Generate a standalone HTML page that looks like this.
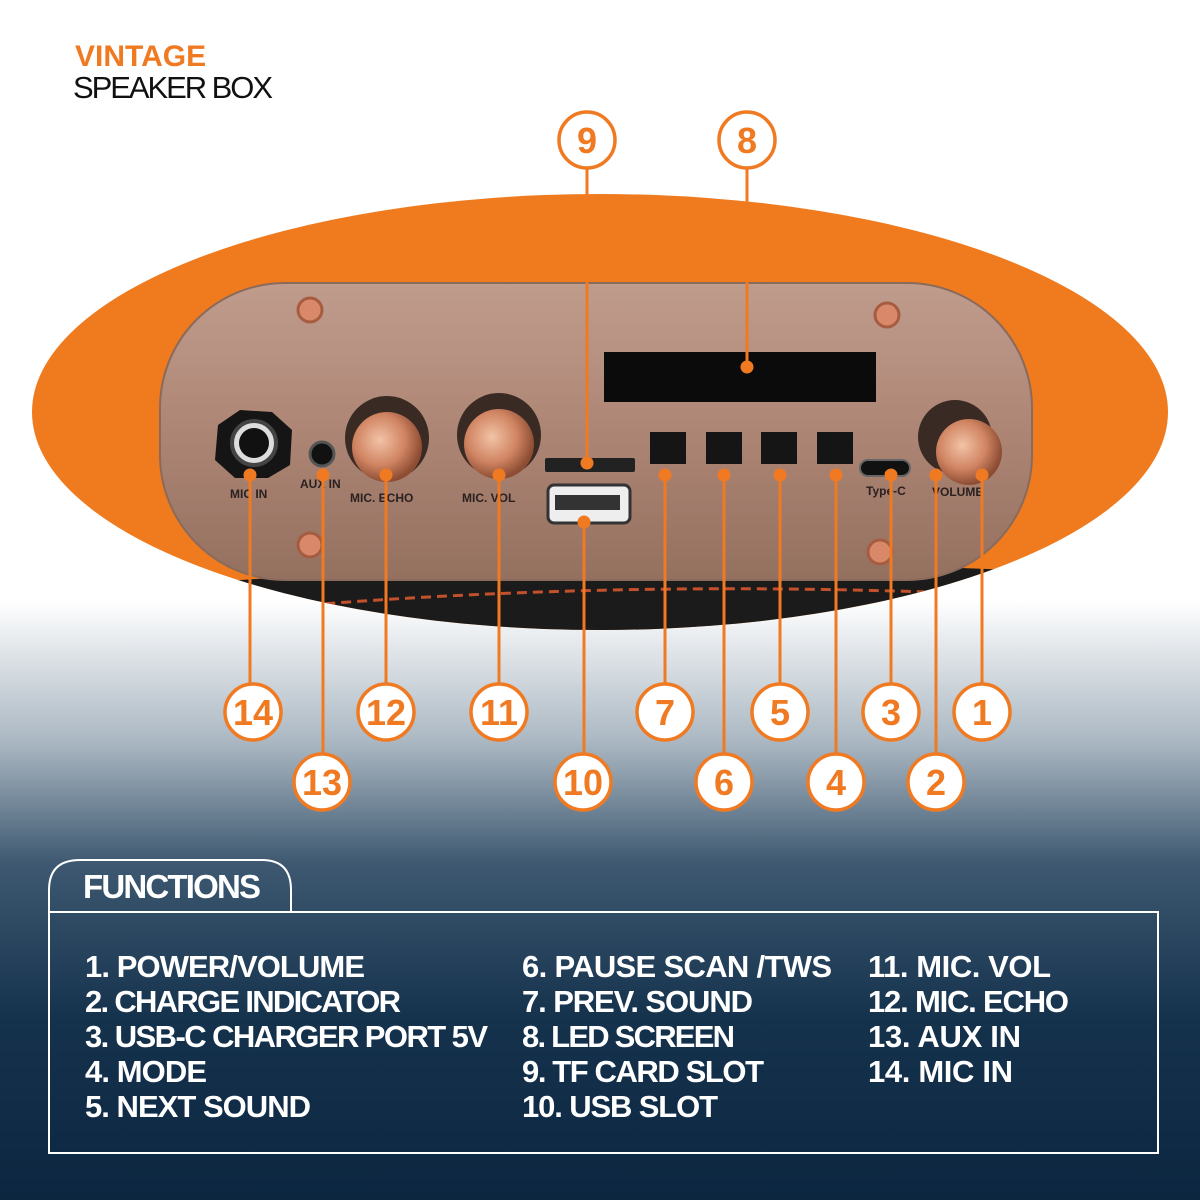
<!DOCTYPE html>
<html><head><meta charset="utf-8"><style>
html,body{margin:0;padding:0;width:1200px;height:1200px;overflow:hidden;background:#fff}
svg{display:block}
text{font-family:"Liberation Sans Narrow","Liberation Sans",sans-serif;font-weight:bold}
</style></head><body>
<svg width="1200" height="1200" viewBox="0 0 1200 1200" xmlns="http://www.w3.org/2000/svg">
<defs>
<linearGradient id="bg" x1="0" y1="0" x2="0" y2="1">
<stop offset="0" stop-color="#ffffff"/>
<stop offset="0.5" stop-color="#ffffff"/>
<stop offset="0.62" stop-color="#a9b6c1"/>
<stop offset="0.72" stop-color="#3d5870"/>
<stop offset="0.85" stop-color="#15324d"/>
<stop offset="1" stop-color="#0c2640"/>
</linearGradient>
<linearGradient id="plate" x1="0" y1="0" x2="0" y2="1">
<stop offset="0" stop-color="#c09c8c"/>
<stop offset="0.5" stop-color="#ad8575"/>
<stop offset="1" stop-color="#94705f"/>
</linearGradient>
<radialGradient id="knob" cx="0.4" cy="0.4" r="0.6">
<stop offset="0" stop-color="#f2c3a6"/>
<stop offset="0.6" stop-color="#d08462"/>
<stop offset="1" stop-color="#8d4d33"/>
</radialGradient>
<clipPath id="ell"><ellipse cx="600" cy="412" rx="568" ry="218"/></clipPath>
</defs>
<rect width="1200" height="1200" fill="url(#bg)"/>
<text x="75" y="66" font-size="30" fill="#f07a22">VINTAGE</text>
<text x="73" y="98" font-size="31" fill="#111" style="font-weight:normal" textLength="200">SPEAKER BOX</text>

<ellipse cx="600" cy="412" rx="568" ry="218" fill="#f07b1f"/>
<g clip-path="url(#ell)">
<path d="M0 600 Q600 540 1200 580 L1200 700 L0 700Z" fill="#1b1b1b"/>
<path d="M150 620 Q600 570 1100 600" stroke="#c4502c" stroke-width="3" stroke-dasharray="10 6" fill="none"/>
</g>
<rect x="160" y="283" width="872" height="297" rx="125" fill="url(#plate)" stroke="#8a6a5a" stroke-width="2"/>
<g fill="#d9896a" stroke="#a55c40" stroke-width="3">
<circle cx="310" cy="310" r="12"/><circle cx="887" cy="315" r="12"/>
<circle cx="310" cy="545" r="12"/><circle cx="880" cy="552" r="12"/>
</g>
<rect x="604" y="352" width="272" height="50" fill="#0b0b0b"/>
<polygon points="218,425 240,410 272,412 292,430 290,465 268,478 235,478 215,460" fill="#151515"/>
<circle cx="254" cy="443" r="22" fill="#ddd" stroke="#444" stroke-width="4"/>
<circle cx="254" cy="443" r="15" fill="#111"/>
<circle cx="322" cy="454" r="12" fill="#111" stroke="#555" stroke-width="3"/>
<circle cx="387" cy="438" r="42" fill="#3a2a24"/>
<circle cx="387" cy="447" r="35" fill="url(#knob)"/>
<circle cx="499" cy="435" r="42" fill="#3a2a24"/>
<circle cx="499" cy="444" r="35" fill="url(#knob)"/>
<circle cx="955" cy="437" r="37" fill="#3a2a24"/>
<circle cx="969" cy="452" r="33" fill="url(#knob)"/>
<rect x="545" y="458" width="90" height="14" rx="2" fill="#222"/>
<rect x="548" y="485" width="82" height="38" rx="6" fill="#eee" stroke="#333" stroke-width="3"/>
<rect x="555" y="495" width="65" height="15" fill="#333"/>
<g fill="#151515"><rect x="650" y="432" width="36" height="32"/><rect x="706" y="432" width="36" height="32"/><rect x="761" y="432" width="36" height="32"/><rect x="817" y="432" width="36" height="32"/></g>
<rect x="860" y="460" width="50" height="16" rx="8" fill="#111" stroke="#666" stroke-width="2"/>
<g font-size="12" fill="#2a2020" style="font-weight:normal">
<text x="230" y="498">MIC IN</text><text x="300" y="488">AUX IN</text>
<text x="350" y="502">MIC. ECHO</text><text x="462" y="502">MIC. VOL</text>
<text x="866" y="495">Type-C</text><text x="932" y="496">VOLUME</text>
</g>
<g stroke="#f07a22" stroke-width="3" fill="#f07a22">
<line x1="587" y1="168" x2="587" y2="463"/><circle cx="587" cy="463" r="5"/>
<line x1="747" y1="168" x2="747" y2="367"/><circle cx="747" cy="367" r="5"/>
<line x1="250" y1="684" x2="250" y2="475"/><circle cx="250" cy="475" r="5"/>
<line x1="323" y1="754" x2="323" y2="475"/><circle cx="323" cy="475" r="5"/>
<line x1="386" y1="684" x2="386" y2="475"/><circle cx="386" cy="475" r="5"/>
<line x1="499" y1="684" x2="499" y2="475"/><circle cx="499" cy="475" r="5"/>
<line x1="584" y1="754" x2="584" y2="522"/><circle cx="584" cy="522" r="5"/>
<line x1="665" y1="684" x2="665" y2="475"/><circle cx="665" cy="475" r="5"/>
<line x1="724" y1="754" x2="724" y2="475"/><circle cx="724" cy="475" r="5"/>
<line x1="780" y1="684" x2="780" y2="475"/><circle cx="780" cy="475" r="5"/>
<line x1="836" y1="754" x2="836" y2="475"/><circle cx="836" cy="475" r="5"/>
<line x1="891" y1="684" x2="891" y2="475"/><circle cx="891" cy="475" r="5"/>
<line x1="936" y1="754" x2="936" y2="475"/><circle cx="936" cy="475" r="5"/>
<line x1="982" y1="684" x2="982" y2="475"/><circle cx="982" cy="475" r="5"/>
</g>
<g fill="#fff" stroke="#f07a22" stroke-width="3.5">
<circle cx="587" cy="140" r="28"/><circle cx="747" cy="140" r="28"/>
<circle cx="253" cy="712" r="28"/><circle cx="386" cy="712" r="28"/><circle cx="499" cy="712" r="28"/>
<circle cx="665" cy="712" r="28"/><circle cx="780" cy="712" r="28"/><circle cx="891" cy="712" r="28"/><circle cx="982" cy="712" r="28"/>
<circle cx="322" cy="782" r="28"/><circle cx="583" cy="782" r="28"/><circle cx="724" cy="782" r="28"/><circle cx="836" cy="782" r="28"/><circle cx="936" cy="782" r="28"/>
</g>
<g fill="#f07a22" font-size="36" text-anchor="middle">
<text x="587" y="153">9</text><text x="747" y="153">8</text>
<text x="253" y="725">14</text><text x="386" y="725">12</text><text x="499" y="725">11</text>
<text x="665" y="725">7</text><text x="780" y="725">5</text><text x="891" y="725">3</text><text x="982" y="725">1</text>
<text x="322" y="795">13</text><text x="583" y="795">10</text><text x="724" y="795">6</text><text x="836" y="795">4</text><text x="936" y="795">2</text>
</g>

<path d="M49 912 L49 890 Q49 860 80 860 L262 860 Q291 860 291 890 L291 912" fill="none" stroke="#fff" stroke-width="2"/>
<rect x="49" y="912" width="1109" height="241" fill="none" stroke="#fff" stroke-width="2"/>
<text x="83" y="898" font-size="33" fill="#fff" textLength="178">FUNCTIONS</text>
<g font-size="31" fill="#fff">
<text x="85" y="977" textLength="280">1. POWER/VOLUME</text>
<text x="85" y="1012" textLength="316">2. CHARGE INDICATOR</text>
<text x="85" y="1047" textLength="403">3. USB-C CHARGER PORT 5V</text>
<text x="85" y="1082" textLength="122">4. MODE</text>
<text x="85" y="1117" textLength="226">5. NEXT SOUND</text>
<text x="522" y="977" textLength="310">6. PAUSE SCAN /TWS</text>
<text x="522" y="1012" textLength="231">7. PREV. SOUND</text>
<text x="522" y="1047" textLength="213">8. LED SCREEN</text>
<text x="522" y="1082" textLength="242">9. TF CARD SLOT</text>
<text x="522" y="1117" textLength="196">10. USB SLOT</text>
<text x="868" y="977" textLength="183">11. MIC. VOL</text>
<text x="868" y="1012" textLength="201">12. MIC. ECHO</text>
<text x="868" y="1047" textLength="153">13. AUX IN</text>
<text x="868" y="1082" textLength="145">14. MIC IN</text>
</g>
</svg>
</body></html>
